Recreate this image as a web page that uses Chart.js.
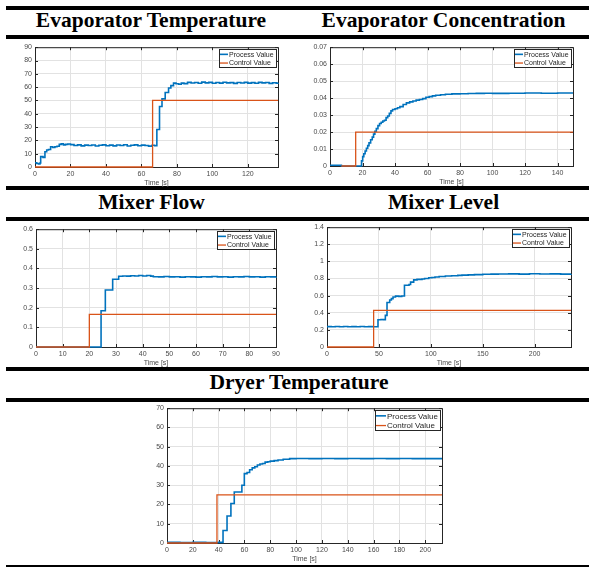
<!DOCTYPE html>
<html><head><meta charset="utf-8">
<script src="https://cdn.jsdelivr.net/npm/chart.js@4/dist/chart.umd.min.js"></script>
<style>
body{margin:0;width:589px;height:567px;position:relative;background:#fff;overflow:hidden}
.bar{position:absolute;background:#000}
.title{position:absolute;font-family:"Liberation Serif","Times New Roman",serif;font-weight:bold;font-size:21.5px;line-height:21.5px;white-space:nowrap;transform:translateX(-50%);color:#000}
canvas{position:absolute}
</style></head>
<body>
<div class="bar" style="left:6px;top:6px;width:583px;height:4px"></div>
<div class="bar" style="left:6px;top:35px;width:583px;height:4px"></div>
<div class="bar" style="left:6px;top:186px;width:583px;height:4px"></div>
<div class="bar" style="left:6px;top:217px;width:583px;height:4px"></div>
<div class="bar" style="left:6px;top:367px;width:583px;height:4px"></div>
<div class="bar" style="left:6px;top:398px;width:583px;height:4px"></div>
<div class="bar" style="left:6px;top:565px;width:583px;height:2px"></div>
<div class="title" style="left:151px;top:10px">Evaporator Temperature</div>
<div class="title" style="left:443.5px;top:10px">Evaporator Concentration</div>
<div class="title" style="left:151.5px;top:192px">Mixer Flow</div>
<div class="title" style="left:443.5px;top:192px">Mixer Level</div>
<div class="title" style="left:299px;top:372px">Dryer Temperature</div>
<canvas id="c1"></canvas><canvas id="c2"></canvas><canvas id="c3"></canvas><canvas id="c4"></canvas><canvas id="c5"></canvas>
<script>
// ---- data: [time s, value] ----
const evapTempPV = [[0,3.2],[1,2.6],[2,2.3],[2.8,3.0],[3.2,7.8],[4.5,7.2],[5.6,11.5],[6.6,12.8],[7.6,13.2],[8.8,15.2],[10,14.7],[11.2,15.2],[12.4,15.6],[13.7,17.0],[14.8,17.4],[16,16.6],[17.2,17.0],[18.5,17.3],[20,16.8],[22,16.2],[24,16.6],[26,15.9],[28,16.4],[30,16.1],[32,16.5],[34,15.8],[36,16.3],[38,16.6],[40,16.0],[42,16.4],[44,15.9],[46,16.5],[48,16.1],[50,16.7],[52,15.8],[54,16.3],[56,16.6],[58,16.0],[60,16.4],[62,16.2],[64,15.7],[66,16.3],[67.5,16.0],[68.7,28.2],[70.2,45.5],[71.6,51.2],[73.4,56.0],[75.3,59.4],[76.6,61.1],[78.1,63.0],[79.5,62.5],[81,62.2],[82.5,63.0],[84,62.6],[86,63.6],[88,63.1],[90,63.5],[92,62.9],[94,63.8],[96,63.2],[98,63.6],[100,62.9],[102,63.5],[104,63.0],[106,63.7],[108,63.2],[110,63.4],[112,62.8],[114,63.5],[116,63.1],[118,63.6],[120,63.0],[122,63.4],[124,62.9],[126,63.6],[128,63.2],[130,63.5],[132,62.8],[134,63.3],[136,63.0],[137,63.2]];
const evapTempCV = [[0,0],[66.3,50],[137,50]];

const evapConcPV = [[0,0.0004],[7,0],[18.9,0],[19.4,0.003],[20.1,0.0055],[20.8,0.0072],[21.6,0.0088],[22.4,0.0105],[23.2,0.012],[24,0.0136],[25,0.0155],[26,0.017],[26.8,0.0188],[27.6,0.0205],[28.5,0.022],[29.5,0.0238],[30.5,0.025],[31.5,0.0258],[32.5,0.0265],[33.5,0.027],[34.5,0.0285],[35.5,0.0295],[36.5,0.031],[37.5,0.0325],[38.5,0.0333],[40,0.0337],[41.5,0.0343],[43,0.035],[45,0.0362],[47,0.0372],[49,0.0378],[51,0.0383],[53,0.0388],[55,0.0392],[57,0.0397],[59,0.0405],[61,0.0409],[63,0.0413],[65,0.0417],[68,0.042],[71,0.0423],[75,0.0425],[80,0.0426],[85,0.0427],[90,0.0428],[95,0.0429],[100,0.0428],[110,0.0429],[120,0.043],[130,0.0429],[140,0.043],[149.5,0.043]];
const evapConcCV = [[7,0],[15.8,0.02],[149.5,0.02]];

const mixerFlowPV = [[0,0],[24.4,0.185],[26,0.29],[28.75,0.345],[31,0.36],[32.5,0.362],[34,0.361],[35.5,0.363],[37,0.362],[38.5,0.364],[40,0.362],[41.5,0.364],[43,0.361],[44,0.358],[46,0.357],[48,0.359],[50,0.357],[52,0.358],[54,0.356],[56,0.358],[58,0.357],[60,0.356],[62,0.358],[64,0.357],[66,0.359],[68,0.357],[70,0.358],[72,0.356],[74,0.358],[76,0.357],[78,0.359],[80,0.357],[82,0.358],[84,0.356],[86,0.358],[88,0.357],[90,0.358]];
const mixerFlowCV = [[0,0],[20,0.166],[90,0.166]];

const mixerLevelPV = [[0,0.238],[4,0.236],[8,0.239],[12,0.237],[16,0.240],[20,0.236],[24,0.238],[28,0.237],[32,0.239],[36,0.236],[40,0.238],[44,0.237],[49.1,0.319],[52,0.322],[54,0.32],[56.2,0.37],[57.8,0.52],[60.4,0.55],[62,0.565],[63.6,0.585],[66,0.595],[69,0.592],[72,0.596],[74.6,0.722],[77,0.722],[79,0.73],[80.5,0.758],[83.5,0.785],[86.7,0.79],[91.5,0.795],[94,0.80],[98,0.81],[101,0.812],[104,0.818],[108,0.823],[114,0.83],[120,0.833],[126,0.837],[130,0.84],[136,0.843],[142,0.846],[150,0.85],[158,0.852],[165,0.853],[175,0.855],[185,0.852],[195,0.856],[205,0.853],[215,0.855],[225,0.852],[235,0.854]];
const mixerLevelCV = [[0,0],[44.9,0.427],[235,0.427]];

const dryerTempPV = [[0,0.3],[10,0.2],[20,0.35],[30,0.25],[40,0.3],[43.4,6.5],[46.5,14],[49.5,20.5],[52.1,26.5],[58,30],[59.9,36],[62,36.6],[64,38],[66,39],[68,39.6],[70,40.5],[72,41],[74,41.3],[76,42],[78,42.2],[80,42.5],[83,42.8],[86,43.1],[90,43.5],[95,43.8],[100,43.9],[110,43.8],[120,43.9],[130,43.8],[140,43.9],[150,43.8],[160,43.9],[170,43.8],[180,43.9],[190,43.8],[200,43.8],[213,43.8]];
const dryerTempCV = [[0,0],[38.7,25],[213,25]];

// axis settings per panel
const xMaxes = [137, 149.5, 90, 235, 213];
const xSteps = [20, 20, 10, 50, 20];
const yMaxes = [90, 0.07, 0.6, 1.4, 70];
const ySteps = [10, 0.01, 0.1, 0.2, 10];
const seriesLabels = ['Process Value', 'Control Value'];
const xLabel = 'Time [s]';

// ---- layout (plot rectangles in page px) ----
const rects = [[35,46,278,167],[330,46,573,166],[36,228,276,347],[327,226,571,347],[167,407,442,543]];
const legendFonts = [7,7,7,7,8];
const BLUE = '#0072BD', ORANGE = '#D95319', AX = '#262626', GRID = '#e2e2e2', TICKC = '#4a4a4a';
const FAM = '"Liberation Sans", Arial, sans-serif';

const boxPlugin = {
  id: 'mbox',
  beforeDatasetsDraw(chart) {
    const {ctx, chartArea: a, scales: {x, y}} = chart;
    ctx.save();
    ctx.strokeStyle = AX; ctx.lineWidth = 1;
    ctx.strokeRect(a.left + 0.5, a.top + 0.5, a.right - a.left, a.bottom - a.top);
    ctx.beginPath();
    x.ticks.forEach(t => {
      const px = Math.round(x.getPixelForValue(t.value)) + 0.5;
      ctx.moveTo(px, a.bottom); ctx.lineTo(px, a.bottom - 3);
      ctx.moveTo(px, a.top); ctx.lineTo(px, a.top + 3);
    });
    y.ticks.forEach(t => {
      const py = Math.round(y.getPixelForValue(t.value)) + 0.5;
      ctx.moveTo(a.left, py); ctx.lineTo(a.left + 3, py);
      ctx.moveTo(a.right, py); ctx.lineTo(a.right - 3, py);
    });
    ctx.stroke();
    ctx.restore();
  }
};

const legendPlugin = {
  id: 'mlegend',
  afterDatasetsDraw(chart, args, opts) {
    const {ctx, chartArea: a} = chart;
    const fs = opts.font || 7;
    ctx.save();
    ctx.font = fs + 'px ' + FAM;
    const ds = chart.data.datasets;
    const lineLen = fs === 7 ? 8 : 10;
    const rowH = fs + 1.7;
    const tw = Math.max(...ds.map(d => ctx.measureText(d.label).width));
    const w = Math.round(1 + lineLen + 1 + tw + 2);
    const h = Math.round(rowH * ds.length + 1);
    const x0 = Math.round(a.right - 2 - w), y0 = Math.round(a.top + 2);
    ctx.fillStyle = '#fff'; ctx.fillRect(x0, y0, w, h);
    ctx.strokeStyle = AX; ctx.lineWidth = 1; ctx.strokeRect(x0 + 0.5, y0 + 0.5, w, h);
    ds.forEach((d, i) => {
      const cy = y0 + 1 + rowH * (i + 0.5);
      ctx.strokeStyle = d.borderColor; ctx.lineWidth = d.borderWidth;
      ctx.beginPath(); ctx.moveTo(x0 + 1, cy); ctx.lineTo(x0 + 1 + lineLen, cy); ctx.stroke();
      ctx.fillStyle = AX; ctx.textBaseline = 'middle'; ctx.textAlign = 'left';
      ctx.fillText(d.label, x0 + 2 + lineLen, cy + 0.5);
    });
    ctx.restore();
  }
};

const toXY = p => p.map(q => ({x: q[0], y: q[1]}));
const fmt = v => String(Math.round(v * 1000) / 1000);

function makeChart(id, i, pv, cv) {
  const [L, T, R, B] = rects[i];
  const c = document.getElementById(id);
  const W = (R - L) + 35 + 8, H = (B - T) + 6 + 20;
  c.width = W; c.height = H;
  c.style.left = (L - 35) + 'px'; c.style.top = (T - 6) + 'px';
  c.style.width = W + 'px'; c.style.height = H + 'px';
  new Chart(c, {
    type: 'line',
    data: {datasets: [
      {label: seriesLabels[0], data: toXY(pv), borderColor: BLUE, borderWidth: 1.6, pointRadius: 0, stepped: 'before', order: 1, clip: 4},
      {label: seriesLabels[1], data: toXY(cv), borderColor: ORANGE, borderWidth: 1.3, pointRadius: 0, stepped: 'before', order: 0, clip: 4}
    ]},
    options: {
      responsive: false, animation: false, devicePixelRatio: 1,
      layout: {padding: {left: 0, top: 6, right: 8, bottom: 0}},
      plugins: {legend: {display: false}, tooltip: {enabled: false}, mlegend: {font: legendFonts[i]}},
      scales: {
        x: {type: 'linear', min: 0, max: xMaxes[i],
          grid: {color: GRID, drawTicks: false}, border: {display: false},
          ticks: {stepSize: xSteps[i], includeBounds: false, autoSkip: false, maxRotation: 0, padding: 3,
            font: {family: FAM, size: 7}, color: TICKC, callback: fmt},
          title: {display: true, text: xLabel, font: {family: FAM, size: 7}, color: TICKC, padding: 0},
          afterFit(s) { s.height = 20; }},
        y: {type: 'linear', min: 0, max: yMaxes[i],
          grid: {color: GRID, drawTicks: false}, border: {display: false},
          ticks: {stepSize: ySteps[i], includeBounds: false, padding: 3,
            font: {family: FAM, size: 7}, color: TICKC, callback: fmt},
          afterFit(s) { s.width = 35; }}
      }
    },
    plugins: [boxPlugin, legendPlugin]
  });
}

makeChart('c1', 0, evapTempPV, evapTempCV);
makeChart('c2', 1, evapConcPV, evapConcCV);
makeChart('c3', 2, mixerFlowPV, mixerFlowCV);
makeChart('c4', 3, mixerLevelPV, mixerLevelCV);
makeChart('c5', 4, dryerTempPV, dryerTempCV);
</script>
</body></html>
